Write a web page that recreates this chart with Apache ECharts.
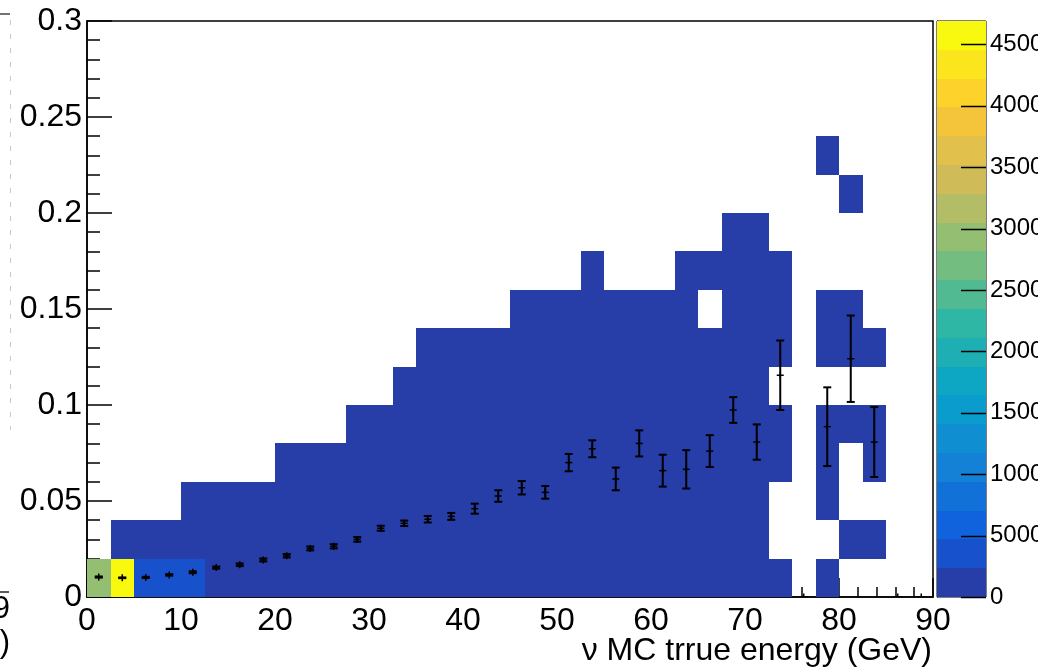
<!DOCTYPE html>
<html>
<head>
<meta charset="utf-8">
<script src="https://cdn.jsdelivr.net/npm/echarts@6/dist/echarts.min.js"></script>
<style>
  html, body { margin: 0; padding: 0; background: #ffffff; }
  #chart { width: 1055px; height: 667px; }
</style>
</head>
<body>
<div id="chart"></div>
<script>
// Histogram binning: 36 energy bins of 2.5 GeV, 15 y bins of 0.02
const xBinWidth = 2.5;
const yBinWidth = 0.02;
const xRange = [0, 90];
const yRange = [0, 0.3];

// Colour scale: maximum content, number of contour levels, labelled ticks
const zMax = 46900;
const nContours = 20;
const paletteTicks = [0, 5000, 10000, 15000, 20000, 25000, 30000, 35000, 40000, 45000];

// Bin contents, one array per y row (row00 = 0..0.02, row01 = 0.02..0.04, ...), 36 energy bins each
const row00 = [29500, 46900, 4200, 3900, 3600, 2150, 1890, 1620, 1380, 1170, 990, 830, 700, 590, 490, 410, 340, 280, 230, 190, 155, 125, 100, 82, 66, 52, 41, 32, 24, 17, 0, 3, 0, 0, 0, 0];
const row01 = [0, 1650, 1480, 1320, 1150, 980, 860, 750, 650, 560, 480, 410, 350, 300, 250, 210, 180, 150, 125, 105, 88, 72, 60, 49, 40, 32, 25, 19, 14, 0, 0, 0, 2, 1, 0, 0];
const row02 = [0, 0, 0, 0, 310, 290, 260, 230, 205, 180, 160, 140, 122, 106, 92, 80, 69, 59, 50, 43, 36, 30, 25, 21, 17, 14, 11, 8, 6, 0, 0, 2, 0, 0, 0, 0];
const row03 = [0, 0, 0, 0, 0, 0, 0, 0, 64, 58, 52, 46, 41, 36, 32, 28, 25, 22, 19, 16, 14, 12, 10, 8, 7, 6, 5, 4, 3, 2, 0, 1, 0, 1, 0, 0];
const row04 = [0, 0, 0, 0, 0, 0, 0, 0, 0, 0, 0, 12, 11, 10, 9, 8, 7, 7, 6, 5, 5, 4, 4, 3, 3, 3, 2, 2, 2, 1, 0, 2, 1, 1, 0, 0];
const row05 = [0, 0, 0, 0, 0, 0, 0, 0, 0, 0, 0, 0, 0, 3, 3, 3, 2, 2, 2, 2, 2, 2, 1, 1, 1, 1, 1, 1, 1, 0, 0, 0, 0, 0, 0, 0];
const row06 = [0, 0, 0, 0, 0, 0, 0, 0, 0, 0, 0, 0, 0, 0, 1, 1, 1, 1, 1, 1, 1, 1, 1, 1, 1, 1, 1, 1, 1, 1, 0, 1, 1, 1, 0, 0];
const row07 = [0, 0, 0, 0, 0, 0, 0, 0, 0, 0, 0, 0, 0, 0, 0, 0, 0, 0, 1, 1, 1, 1, 1, 1, 1, 1, 0, 1, 1, 1, 0, 1, 1, 0, 0, 0];
const row08 = [0, 0, 0, 0, 0, 0, 0, 0, 0, 0, 0, 0, 0, 0, 0, 0, 0, 0, 0, 0, 0, 1, 0, 0, 0, 1, 1, 1, 1, 1, 0, 0, 0, 0, 0, 0];
const row09 = [0, 0, 0, 0, 0, 0, 0, 0, 0, 0, 0, 0, 0, 0, 0, 0, 0, 0, 0, 0, 0, 0, 0, 0, 0, 0, 0, 1, 1, 0, 0, 0, 0, 0, 0, 0];
const row10 = [0, 0, 0, 0, 0, 0, 0, 0, 0, 0, 0, 0, 0, 0, 0, 0, 0, 0, 0, 0, 0, 0, 0, 0, 0, 0, 0, 0, 0, 0, 0, 0, 1, 0, 0, 0];
const row11 = [0, 0, 0, 0, 0, 0, 0, 0, 0, 0, 0, 0, 0, 0, 0, 0, 0, 0, 0, 0, 0, 0, 0, 0, 0, 0, 0, 0, 0, 0, 0, 1, 0, 0, 0, 0];
const cellRows = [row00, row01, row02, row03, row04, row05, row06, row07, row08, row09, row10, row11];

// Profile overlay: mean and error per energy bin
const profileMean = [0.0104, 0.0100, 0.0102, 0.0115, 0.0129, 0.0153, 0.0168, 0.0193, 0.0215, 0.0253, 0.0264, 0.0300,
                     0.0358, 0.0384, 0.0405, 0.0420, 0.0460, 0.0526, 0.0569, 0.0545, 0.0700, 0.0772, 0.0615, 0.0800,
                     0.0658, 0.0665, 0.0760, 0.0974, 0.0807, 0.1155, 0, 0.0887, 0.1241, 0.0807, 0, 0];
const profileErr = [0.0003, 0.0002, 0.0003, 0.0004, 0.0005, 0.0006, 0.0007, 0.0008, 0.0009, 0.0010, 0.0011, 0.0012,
                    0.0013, 0.0014, 0.0017, 0.0018, 0.0026, 0.0030, 0.0035, 0.0033, 0.0045, 0.0044, 0.0059, 0.0068,
                    0.0083, 0.0100, 0.0083, 0.0067, 0.0092, 0.0181, 0, 0.0205, 0.0225, 0.0182, 0, 0];

const xTitle = 'ν MC trrue energy (GeV)';
const FONT = '"Liberation Sans", Arial, Helvetica, sans-serif';

// kBird palette stops
const birdStops = [0.0, 0.125, 0.25, 0.375, 0.5, 0.625, 0.75, 0.875, 1.0];
const birdR = [0.2082, 0.0592, 0.0780, 0.0232, 0.1802, 0.5301, 0.8186, 0.9956, 0.9764];
const birdG = [0.1664, 0.3599, 0.5041, 0.6419, 0.7178, 0.7492, 0.7328, 0.7862, 0.9832];
const birdB = [0.5293, 0.8684, 0.8385, 0.7914, 0.6425, 0.4662, 0.3499, 0.1968, 0.0539];

function birdColor(t) {
  t = Math.max(0, Math.min(1, t));
  let s = 0;
  while (s < birdStops.length - 2 && t > birdStops[s + 1]) s++;
  const f = (t - birdStops[s]) / (birdStops[s + 1] - birdStops[s]);
  const c = (a) => Math.round(255 * (a[s] + (a[s + 1] - a[s]) * f));
  return 'rgb(' + c(birdR) + ',' + c(birdG) + ',' + c(birdB) + ')';
}
function levelColor(k) {
  const idx = Math.floor((k + 0.99) * 255 / nContours);
  return birdColor(idx / 255);
}
function contentColor(v) {
  let k = Math.floor(v / (zMax / nContours));
  if (k > nContours - 1) k = nContours - 1;
  return levelColor(k);
}

// Flatten the rows into [xLow, yLow, content] cells; empty bins are not drawn
const cellData = [];
cellRows.forEach((row, j) => {
  row.forEach((v, i) => {
    if (v > 0) cellData.push([i * xBinWidth, j * yBinWidth, v]);
  });
});

const profileData = profileMean.map((m, i) => [(i + 0.5) * xBinWidth, m, profileErr[i]]);

// Colour bar bands, one per contour level
const levelData = [];
for (let k = 0; k < nContours; k++) {
  levelData.push([k * zMax / nContours, (k + 1) * zMax / nContours, k]);
}

const chart = echarts.init(document.getElementById('chart'), null, { renderer: 'canvas' });

const blackLine = { color: '#000', width: 1.5 };

chart.setOption({
  animation: false,
  backgroundColor: '#ffffff',
  grid: [
    { left: 87, top: 21, width: 846, height: 576, show: true, borderColor: '#000', borderWidth: 1.5,
      backgroundColor: 'transparent', containLabel: false, outerBoundsMode: 'none' },
    { left: 937, top: 21, width: 49, height: 576, show: true, borderColor: '#000', borderWidth: 1,
      backgroundColor: 'transparent', containLabel: false, outerBoundsMode: 'none' }
  ],
  xAxis: [
    {
      type: 'value', gridIndex: 0, min: xRange[0], max: xRange[1], interval: 10,
      axisLine: { show: true, lineStyle: blackLine },
      axisTick: { show: true, inside: true, length: 19, lineStyle: blackLine },
      minorTick: { show: true, splitNumber: 5, length: 10, lineStyle: blackLine },
      splitLine: { show: false },
      axisLabel: { fontSize: 32, color: '#000', margin: 8, fontFamily: FONT }
    },
    { type: 'value', gridIndex: 1, min: 0, max: 1, show: false }
  ],
  yAxis: [
    {
      type: 'value', gridIndex: 0, min: yRange[0], max: yRange[1], interval: 0.05,
      axisLine: { show: true, lineStyle: blackLine },
      axisTick: { show: true, inside: true, length: 25, lineStyle: blackLine },
      minorTick: { show: true, splitNumber: 5, length: 13, lineStyle: blackLine },
      splitLine: { show: false },
      axisLabel: { fontSize: 32, color: '#000', margin: 5, fontFamily: FONT }
    },
    {
      type: 'value', gridIndex: 1, position: 'right', min: 0, max: zMax, interval: 5000,
      axisLine: { show: true, lineStyle: { color: '#000', width: 1 } },
      axisTick: { show: false },
      splitLine: { show: false },
      axisLabel: { fontSize: 24, color: '#000', margin: 4, fontFamily: FONT, showMaxLabel: false,
                   formatter: (v) => String(v) }
    }
  ],
  series: [
    {
      type: 'custom', name: 'counts', xAxisIndex: 0, yAxisIndex: 0, data: cellData, clip: true, z: 1,
      encode: { x: 0, y: 1 },
      renderItem: function (params, api) {
        const x0 = api.value(0), y0 = api.value(1), v = api.value(2);
        const p0 = api.coord([x0, y0]);
        const p1 = api.coord([x0 + xBinWidth, y0 + yBinWidth]);
        const l = Math.round(p0[0]), r = Math.round(p1[0]);
        const b = Math.round(p0[1]), t = Math.round(p1[1]);
        return {
          type: 'rect',
          shape: { x: l, y: t, width: r - l, height: b - t },
          style: { fill: contentColor(v), stroke: null }
        };
      }
    },
    {
      type: 'custom', name: 'profile', xAxisIndex: 0, yAxisIndex: 0, data: profileData, clip: true, z: 3,
      encode: { x: 0, y: 1 },
      renderItem: function (params, api) {
        const x = api.value(0), m = api.value(1), e = api.value(2);
        const c = api.coord([x, m]);
        const top = api.coord([x, m + e]);
        const bot = api.coord([x, m - e]);
        const cap = 4, arm = 3.5;
        const st = { stroke: '#000', lineWidth: 2 };
        const stThin = { stroke: '#000', lineWidth: 1.5 };
        return {
          type: 'group',
          children: [
            { type: 'line', shape: { x1: c[0], y1: top[1], x2: c[0], y2: bot[1] }, style: st },
            { type: 'line', shape: { x1: c[0] - cap, y1: top[1], x2: c[0] + cap, y2: top[1] }, style: st },
            { type: 'line', shape: { x1: c[0] - cap, y1: bot[1], x2: c[0] + cap, y2: bot[1] }, style: st },
            { type: 'line', shape: { x1: c[0] - arm, y1: c[1], x2: c[0] + arm, y2: c[1] }, style: stThin },
            { type: 'line', shape: { x1: c[0], y1: c[1] - arm, x2: c[0], y2: c[1] + arm }, style: stThin }
          ]
        };
      }
    },
    {
      type: 'custom', name: 'palette', xAxisIndex: 1, yAxisIndex: 1, data: levelData, z: 1,
      encode: { y: [0, 1] },
      renderItem: function (params, api) {
        const lo = api.value(0), hi = api.value(1), k = api.value(2);
        const a = api.coord([0, lo]);
        const b = api.coord([1, hi]);
        const t = Math.round(b[1]), bt = Math.round(a[1]);
        return {
          type: 'rect',
          shape: { x: a[0], y: t, width: b[0] - a[0], height: bt - t },
          style: { fill: levelColor(k), stroke: null }
        };
      }
    },
    {
      // tick marks of the colour bar, drawn from its right edge inwards
      type: 'custom', name: 'paletteTicks', xAxisIndex: 1, yAxisIndex: 1, data: paletteTicks.map((v) => [1, v]), z: 2,
      encode: { x: 0, y: 1 },
      renderItem: function (params, api) {
        const p = api.coord([1, api.value(1)]);
        const y = Math.round(p[1]) + 0.5;
        return {
          type: 'line',
          shape: { x1: p[0] - 25, y1: y, x2: p[0], y2: y },
          style: { stroke: '#000', lineWidth: 1.5 }
        };
      }
    }
  ],
  graphic: [
    {
      type: 'text', x: 932, y: 651, z: 10,
      style: { text: xTitle, align: 'right', verticalAlign: 'middle', font: '32px ' + FONT, fill: '#000' }
    },
    // pieces of the neighbouring pad at the left edge
    { type: 'line', shape: { x1: 0, y1: 14, x2: 10, y2: 14 }, style: { stroke: '#444', lineWidth: 1.5 }, z: 10 },
    { type: 'line', shape: { x1: 10.5, y1: 20, x2: 10.5, y2: 430 }, style: { stroke: '#c8c8c8', lineWidth: 1, lineDash: [5, 9] }, z: 10 },
    { type: 'line', shape: { x1: 0, y1: 592, x2: 9, y2: 592 }, style: { stroke: '#222', lineWidth: 1.5 }, z: 10 },
    { type: 'text', x: 10, y: 609, z: 10, style: { text: '9', align: 'right', verticalAlign: 'middle', font: '31px ' + FONT, fill: '#000' } },
    { type: 'text', x: 10, y: 643, z: 10, style: { text: ')', align: 'right', verticalAlign: 'middle', font: '31px ' + FONT, fill: '#000' } },
    // the canvas ends just right of the colour bar labels
    { type: 'rect', shape: { x: 1038, y: 0, width: 17, height: 667 }, style: { fill: '#ffffff' }, z: 100 }
  ]
});
</script>
</body>
</html>
